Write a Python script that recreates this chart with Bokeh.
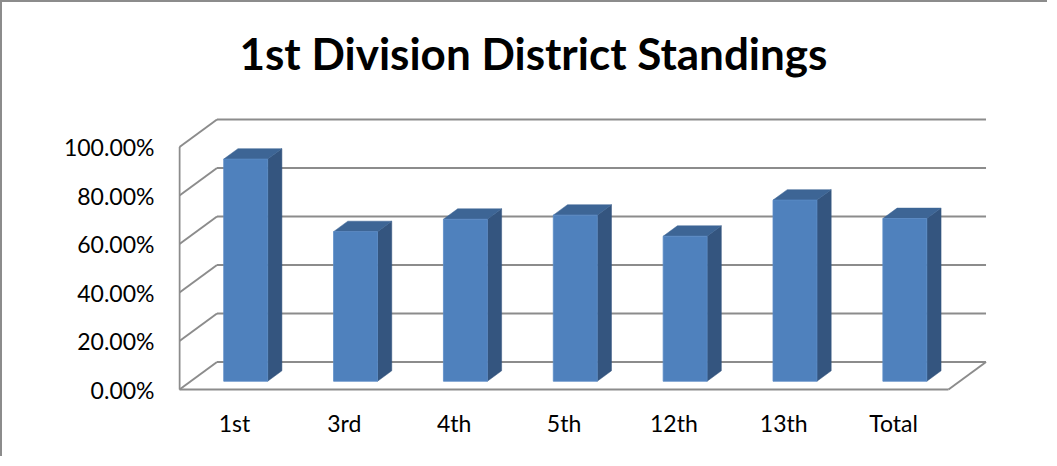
from bokeh.plotting import figure
from bokeh.models import FixedTicker, Range1d, Title
from bokeh.embed import file_html
from bokeh.resources import INLINE

# ---- data ----
categories = ["1st", "3rd", "4th", "5th", "12th", "13th", "Total"]
values = [91.6, 61.7, 66.8, 68.5, 59.8, 74.7, 67.1]
y_ticks = [0, 20, 40, 60, 80, 100]
y_tick_labels = ["0.00%", "20.00%", "40.00%", "60.00%", "80.00%", "100.00%"]
title_text = "1st Division District Standings"

# ---- 3D projection style constants ----
PX_X = 109.86          # pixels per category slot
PX_Y = 2.425           # pixels per percent
DX = 37.5 / PX_X       # depth offset (x, data units)
DY = 27.5 / PX_Y       # depth offset (y, data units)
FACE_DEPTH = 0.30      # where the bar front sits inside the depth
BAR_DEPTH = 0.38       # bar thickness as fraction of depth
BAR_W = 0.40           # bar front-face width (category units)

W, H = 1047, 456
LEFT, TOP = 176, 76
FRAME_W, FRAME_H = 810, 313
n = len(categories)

x0 = -1.0 / PX_X
y0 = -2.0 / PX_Y
p = figure(width=W, height=H, output_backend="svg", toolbar_location=None, title=None,
           x_range=Range1d(x0, x0 + FRAME_W / PX_X),
           y_range=Range1d(y0, y0 + FRAME_H / PX_Y),
           min_border_left=LEFT, min_border_right=W - LEFT - FRAME_W,
           min_border_top=TOP, min_border_bottom=H - TOP - FRAME_H)
p.styles = {"border-left": "2px solid #8c8c8c", "border-top": "2px solid #8c8c8c"}
p.outline_line_color = None
p.grid.visible = False
p.background_fill_color = "white"
p.border_fill_color = "white"

p.add_layout(Title(text=title_text, text_font="Lato", text_font_style="bold",
                   text_font_size="44px", text_color="black",
                   align="left", offset=61, standoff=0), "above")

GRID = "#8c8c8c"
# back wall gridlines
xs = [[DX, n + DX] for t in y_ticks]
ys = [[t + DY, t + DY] for t in y_ticks]
# left wall diagonals
xs += [[0, DX] for t in y_ticks]
ys += [[t, t + DY] for t in y_ticks]
# front-left edge, front floor edge, right floor edge
xs += [[0, 0], [0, n], [n, n + DX]]
ys += [[0, y_ticks[-1]], [0, 0], [0, DY]]
p.multi_line(xs, ys, line_color=GRID, line_width=2)

# bars (front, top, side faces), built from the values
fx, fy, tx, ty, sx, sy = [], [], [], [], [], []
for i, v in enumerate(values):
    c = i + 0.5 + FACE_DEPTH * DX
    L, R = c - BAR_W / 2, c + BAR_W / 2
    B = FACE_DEPTH * DY
    T = B + v
    ddx, ddy = BAR_DEPTH * DX, BAR_DEPTH * DY
    fx.append([L, R, R, L]); fy.append([B, B, T, T])
    tx.append([L, R, R + ddx, L + ddx]); ty.append([T, T, T + ddy, T + ddy])
    sx.append([R, R + ddx, R + ddx, R]); sy.append([B, B + ddy, T + ddy, T])

p.patches(sx, sy, fill_color="#34557F", line_color="#34557F", line_width=0.5)
p.patches(tx, ty, fill_color="#3D6595", line_color="#3D6595", line_width=0.5)
p.patches(fx, fy, fill_color="#4F81BD", line_color="#5B8CC6", line_width=0.8)

# axes
for ax in (p.xaxis[0], p.yaxis[0]):
    ax.axis_line_color = None
    ax.major_tick_line_color = None
    ax.minor_tick_line_color = None
    ax.major_tick_out = 0
    ax.major_tick_in = 0
    ax.major_label_text_font = "Lato"
    ax.major_label_text_font_size = "23px"
    ax.major_label_text_color = "black"

p.yaxis.ticker = FixedTicker(ticks=y_ticks)
p.yaxis.major_label_overrides = {t: lab for t, lab in zip(y_ticks, y_tick_labels)}
p.yaxis.major_label_standoff = 24

x_ticks = [i + 0.5 for i in range(n)]
p.xaxis.ticker = FixedTicker(ticks=x_ticks)
p.xaxis.major_label_overrides = {t: lab for t, lab in zip(x_ticks, categories)}
p.xaxis.major_label_standoff = 17

open("out.html", "w").write(file_html(p, INLINE))
